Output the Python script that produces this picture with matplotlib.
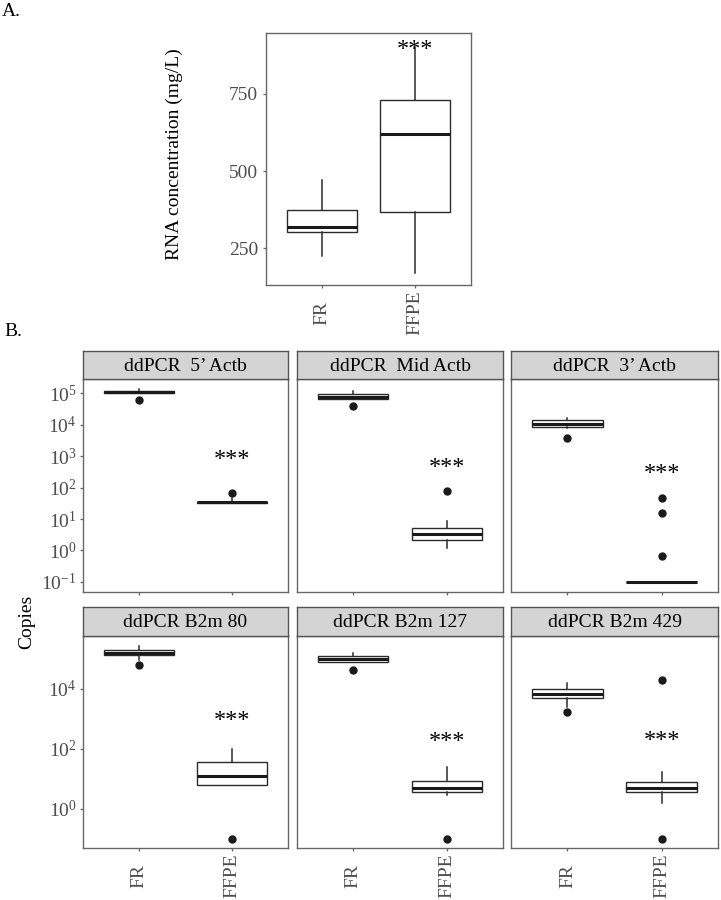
import numpy as np
import matplotlib
matplotlib.use('Agg')
import matplotlib.pyplot as plt
import matplotlib.ticker as mticker

### Fonts
plt.rcParams['font.family'] = 'Liberation Serif'
plt.rcParams['mathtext.fontset'] = 'custom'
plt.rcParams['mathtext.rm'] = 'Liberation Serif'
plt.rcParams['mathtext.it'] = 'Liberation Serif:italic'
plt.rcParams['mathtext.bf'] = 'Liberation Serif:bold'

### Data - panel A (RNA concentration, mg/L)
groups = ['FR', 'FFPE']
rna_whislo = [224, 169]
rna_q1 = [302, 367]
rna_med = [318, 620]
rna_q3 = [373, 730]
rna_whishi = [471, 902]
rna_star = 916

### Data - panel B (copies)
facet_titles = ['ddPCR  5\u2019 Actb', 'ddPCR  Mid Actb', 'ddPCR  3\u2019 Actb',
                'ddPCR B2m 80', 'ddPCR B2m 127', 'ddPCR B2m 429']
fr_whislo = [0.98e5, 6.6e4, 7600, 9.0e4, 8.1e4, 2400]
fr_q1 = [0.98e5, 6.6e4, 8300, 1.32e5, 8.1e4, 5100]
fr_med = [1.08e5, 7.7e4, 10500, 1.62e5, 1.0e5, 6800]
fr_q3 = [1.2e5, 9.2e4, 14000, 2.0e5, 1.2e5, 9800]
fr_whishi = [1.4e5, 1.15e5, 16000, 2.75e5, 1.55e5, 15000]
fr_fliers = [[6.0e4], [3.8e4], [3800], [6.2e4], [4.2e4], [1700]]

ffpe_whislo = [33, 1.2, 0.1, 6, 2.95, 1.55]
ffpe_q1 = [33, 2.1, 0.1, 6, 3.5, 3.5]
ffpe_med = [34, 3.4, 0.1, 12, 5.1, 4.8]
ffpe_q3 = [35, 5.2, 0.1, 36, 8.5, 7.6]
ffpe_whishi = [45, 8.5, 0.1, 95, 24, 16.6]
ffpe_fliers = [[66], [80], [46, 15, 0.66], [0.1], [0.1], [19000, 0.1]]

star_y = [1300, 740, 480, 1500, 300, 320]

top_ticks = [1e-1, 1e0, 1e1, 1e2, 1e3, 1e4, 1e5]
bottom_ticks = [1e0, 1e2, 1e4]

### Figure
W, H = 721., 900.
fig = plt.figure(figsize=(W/100, H/100), dpi=100)

def px_axes(x0, y0, x1, y1):
    return fig.add_axes([x0/W, 1 - y1/H, (x1 - x0)/W, (y1 - y0)/H])

edge = '#2b2b2b'
spine_col = '#666666'
tick_col = '#4d4d4d'

boxkw = dict(positions=[1, 2], widths=0.75, showcaps=False, patch_artist=True,
             boxprops=dict(facecolor='white', edgecolor=edge, linewidth=1.0),
             medianprops=dict(color='#1a1a1a', linewidth=2.2),
             whiskerprops=dict(color=edge, linewidth=1.1),
             flierprops=dict(marker='o', markerfacecolor='#1a1a1a',
                             markeredgecolor='#1a1a1a', markersize=5))

def style_axes(ax, xlabels=True, ylabels=True):
    for s in ax.spines.values():
        s.set_color(spine_col)
        s.set_linewidth(1.0)
    ax.set_xlim(0.4, 2.6)
    ax.set_xticks([1, 2])
    if xlabels:
        ax.set_xticklabels(groups, rotation=90, va='center', fontsize=14,
                           color=tick_col)
    else:
        ax.set_xticklabels([])
    ax.tick_params(axis='x', length=2.5, width=0.9, color=spine_col, pad=17.5)
    ax.tick_params(axis='y', length=2.5, width=0.9, color=spine_col, pad=2,
                   labelsize=14, labelcolor=tick_col)
    if not ylabels:
        ax.tick_params(axis='y', left=False, labelleft=False)
    ax.minorticks_off()

### Panel A
axA = px_axes(266, 33, 471, 285)
statsA = []
for i in range(2):
    statsA.append(dict(whislo=rna_whislo[i], q1=rna_q1[i], med=rna_med[i],
                       q3=rna_q3[i], whishi=rna_whishi[i], fliers=[]))
axA.bxp(statsA, **boxkw)
axA.set_ylim(130, 948)
axA.set_yticks([250, 500, 750])
style_axes(axA)
axA.tick_params(axis='y', pad=3)
axA.annotate('***', xy=(2, rna_star), xytext=(0, -9), textcoords='offset points',
             ha='center', va='baseline', fontsize=17.5)
fig.text(174/W, 1 - 154/H, 'RNA concentration (mg/L)', rotation=90,
         ha='center', va='center', fontsize=14)
fig.text(2/W, 1 - 11/H, 'A.', ha='left', va='center', fontsize=14)

### Panel B
cols = [(83, 288), (297, 503), (511, 718)]
rows = [(351, 379, 592), (607, 636, 848)]
for k in range(6):
    r, c = k // 3, k % 3
    x0, x1 = cols[c]
    s0, s1, p1 = rows[r]
    ax = px_axes(x0, s1, x1, p1)
    stats = [dict(whislo=fr_whislo[k], q1=fr_q1[k], med=fr_med[k], q3=fr_q3[k],
                  whishi=fr_whishi[k], fliers=fr_fliers[k]),
             dict(whislo=ffpe_whislo[k], q1=ffpe_q1[k], med=ffpe_med[k],
                  q3=ffpe_q3[k], whishi=ffpe_whishi[k], fliers=ffpe_fliers[k])]
    ax.set_yscale('log')
    ax.bxp(stats, **boxkw)
    if r == 0:
        ax.set_ylim(10**-1.32, 10**5.45)
        ax.yaxis.set_major_locator(mticker.FixedLocator(top_ticks))
    else:
        ax.set_ylim(10**-1.31, 10**5.76)
        ax.yaxis.set_major_locator(mticker.FixedLocator(bottom_ticks))
    ax.yaxis.set_major_formatter(mticker.LogFormatterSciNotation())
    ax.yaxis.set_minor_locator(mticker.NullLocator())
    style_axes(ax, xlabels=(r == 1), ylabels=(c == 0))
    ax.annotate('***', xy=(2, star_y[k]), xytext=(0, -9),
                textcoords='offset points', ha='center', va='baseline',
                fontsize=17.5)

    # facet strip
    st = px_axes(x0, s0, x1, s1)
    st.set_facecolor('#d4d4d4')
    st.set_xticks([])
    st.set_yticks([])
    for s in st.spines.values():
        s.set_color('#555555')
        s.set_linewidth(1.0)
    st.text(0.5, 0.45, facet_titles[k], transform=st.transAxes,
            ha='center', va='center', fontsize=14)

fig.text(27/W, 1 - 622/H, 'Copies', rotation=90, ha='center', va='center',
         fontsize=14)
fig.text(4/W, 1 - 331/H, 'B.', ha='left', va='center', fontsize=14)

plt.savefig('out.png', dpi=100)
